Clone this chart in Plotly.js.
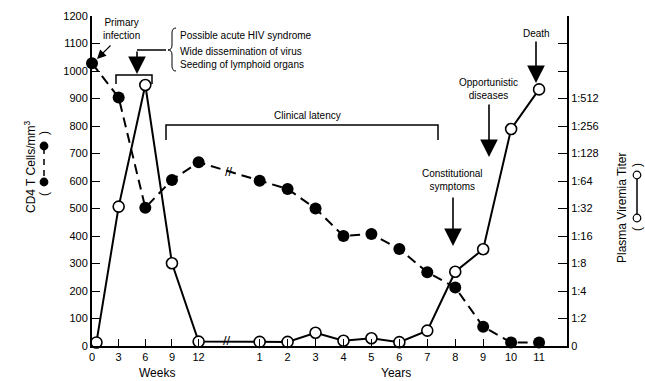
<!DOCTYPE html>
<html><head><meta charset="utf-8">
<script src="https://cdn.plot.ly/plotly-3.0.1.min.js"></script>
<style>html,body{margin:0;padding:0;background:#fff}#chart{width:645px;height:381px}</style>
</head><body><div id="chart"></div>
<script>
// ---- data ----
const weekTicks = [0, 3, 6, 9, 12];
const yearTicks = [1, 2, 3, 4, 5, 6, 7, 8, 9, 10, 11];
const cd4Weeks = [0, 3, 6, 9, 12];
const cd4WeekVals = [1028, 904, 503, 604, 668];
const cd4Years = [1, 2, 3, 4, 5, 6, 7, 8, 9, 10, 11];
const cd4YearVals = [601, 571, 500, 400, 407, 353, 268, 213, 70, 13, 13];
const virWeeks = [0.5, 3, 6, 9, 12];
const virWeekVals = [13, 507, 949, 301, 16];
const virYears = [1, 2, 3, 4, 5, 6, 7, 8, 9, 10, 11];
const virYearVals = [15, 15, 48, 19, 28, 14, 56, 270, 352, 789, 933];
const leftTicks = [0,100,200,300,400,500,600,700,800,900,1000,1100,1200];
const titerLabels = ["0","1:2","1:4","1:8","1:16","1:32","1:64","1:128","1:256","1:512","","",""];

// axis position mapping (weeks compressed, then years)
const wPos = w => w * 0.318;
const yPos = y => y + 5;

const FONT = "Liberation Sans, Arial, Helvetica, sans-serif";
const L = 92, R = 567, T = 16, B = 346;
const px = x => (x - L) / (R - L);
const py = y => (B - y) / (B - T);

const cd4 = {
  x: cd4Weeks.map(wPos).concat(cd4Years.map(yPos)),
  y: cd4WeekVals.concat(cd4YearVals),
  mode: 'lines+markers', type: 'scatter', cliponaxis: false,
  line: {color: '#000', width: 2, dash: '10px,6px'},
  marker: {color: '#000', size: 12, line: {color: '#000', width: 0}}
};
const vir = {
  x: virWeeks.map(wPos).concat(virYears.map(yPos)),
  y: virWeekVals.concat(virYearVals),
  mode: 'lines+markers', type: 'scatter', cliponaxis: false,
  line: {color: '#000', width: 2},
  marker: {color: '#fff', size: 11, line: {color: '#000', width: 1.6}}
};
const dummy = {x: [0], y: [0], yaxis: 'y2', mode: 'markers', marker: {opacity: 0}, hoverinfo: 'skip', showlegend: false};

const tickvals = weekTicks.map(wPos).concat(yearTicks.map(yPos));
const ticktext = weekTicks.map(String).concat(yearTicks.map(String));

function txt(x, y, text, size, opts) {
  return Object.assign({xref: 'paper', yref: 'paper', x: px(x), y: py(y), text: text,
    xanchor: 'center', yanchor: 'middle',
    showarrow: false, font: {family: FONT, size: size, color: '#000'}}, opts || {});
}
function arrow(x, y, tx, ty, w, s) {
  return {xref: 'paper', yref: 'paper', x: px(x), y: py(y), ax: tx - x, ay: ty - y, text: '',
    showarrow: true, arrowhead: 2, arrowsize: s, arrowwidth: w, arrowcolor: '#000'};
}
function line(pts, w, dash) {
  let d = pts.map((p, i) => (i ? 'L' : 'M') + px(p[0]) + ',' + py(p[1])).join(' ');
  return {type: 'path', xref: 'paper', yref: 'paper', path: d,
    line: {color: '#000', width: w || 1.5, dash: dash || 'solid'}};
}
function dot(cx, cy, r, fill) {
  return {type: 'circle', xref: 'paper', yref: 'paper', x0: px(cx - r), x1: px(cx + r),
    y0: py(cy + r), y1: py(cy - r), fillcolor: fill, line: {color: '#000', width: 1.2}};
}

const annotations = [
  txt(121, 29, 'Primary<br>infection', 10),
  arrow(97, 59, 112, 44, 1.2, 1.5),
  arrow(137, 74, 137, 50, 1.6, 2.2),
  txt(178, 36, 'Possible acute HIV syndrome', 10, {xanchor: 'left'}),
  txt(178, 51, 'Wide dissemination of virus', 10, {xanchor: 'left'}),
  txt(178, 64, 'Seeding of lymphoid organs', 10, {xanchor: 'left'}),
  txt(307, 116, 'Clinical latency', 10),
  txt(452, 180, 'Constitutional<br>symptoms', 10),
  arrow(453, 246, 453, 196, 1.6, 2.2),
  txt(488, 89, 'Opportunistic<br>diseases', 10),
  arrow(489, 157, 489, 103, 1.6, 2.2),
  txt(536, 33, 'Death', 10),
  arrow(536, 83, 536, 40, 1.6, 2.2),
  txt(229, 171, '//', 13),
  txt(227, 340, '//', 13),
  txt(157, 373, 'Weeks', 12),
  txt(396, 373, 'Years', 12),
  txt(30, 167, 'CD4 T Cells/mm<sup>3</sup>', 12, {textangle: -90}),
  txt(44, 194, '(', 12, {textangle: -90}),
  txt(44, 133, ')', 12, {textangle: -90}),
  txt(622, 208, 'Plasma Viremia Titer', 12, {textangle: -90}),
  txt(637, 229, '(', 12, {textangle: -90}),
  txt(637, 165, ')', 12, {textangle: -90})
];

const shapes = [
  line([[116, 84], [116, 75], [152, 75], [152, 84]]),
  line([[137, 50], [166, 50]]),
  {type: 'path', xref: 'paper', yref: 'paper', line: {color: '#000', width: 1},
   path: 'M' + px(176) + ',' + py(28) + ' Q' + px(172) + ',' + py(28) + ' ' + px(172) + ',' + py(33) +
         ' L' + px(172) + ',' + py(45) + ' Q' + px(172) + ',' + py(50) + ' ' + px(168) + ',' + py(50) +
         ' Q' + px(172) + ',' + py(50) + ' ' + px(172) + ',' + py(55) +
         ' L' + px(172) + ',' + py(66) + ' Q' + px(172) + ',' + py(71) + ' ' + px(176) + ',' + py(71)},
  line([[166, 140], [166, 125], [438, 125], [438, 140]]),
  // left legend glyph (filled, dashed)
  line([[44, 148], [44, 180]], 1.5, '6px,5px'),
  dot(44, 146, 3.8, '#000'),
  dot(44, 182, 3.8, '#000'),
  // right legend glyph (open, solid)
  line([[637, 175], [637, 218]], 1.5),
  dot(637, 175, 3.8, '#fff'),
  dot(637, 218, 3.8, '#fff')
];

const layout = {
  width: 645, height: 381,
  margin: {l: L, r: 645 - R, t: T, b: 381 - B},
  paper_bgcolor: '#fff', plot_bgcolor: '#fff',
  showlegend: false,
  font: {family: FONT, size: 11, color: '#000'},
  xaxis: {range: [0, 17], tickvals: tickvals, ticktext: ticktext, ticks: 'inside', ticklen: 7,
    tickcolor: '#000', tickwidth: 1, showgrid: false, zeroline: false, showline: true,
    linecolor: '#000', linewidth: 2, tickfont: {family: FONT, size: 11}},
  yaxis: {range: [0, 1200], tickvals: leftTicks, ticks: 'inside', ticklen: 8, tickcolor: '#000',
    tickwidth: 1, showgrid: false, zeroline: false, showline: true, linecolor: '#000', linewidth: 2,
    tickfont: {family: FONT, size: 11}},
  yaxis2: {range: [0, 1200], overlaying: 'y', side: 'right', tickvals: leftTicks, ticktext: titerLabels,
    ticks: 'inside', ticklen: 9, tickcolor: '#000', tickwidth: 1, showgrid: false, zeroline: false,
    showline: true, linecolor: '#000', linewidth: 2, tickfont: {family: FONT, size: 11}},
  annotations: annotations,
  shapes: shapes
};

Plotly.newPlot('chart', [dummy, cd4, vir], layout, {staticPlot: true, displayModeBar: false});
</script></body></html>
